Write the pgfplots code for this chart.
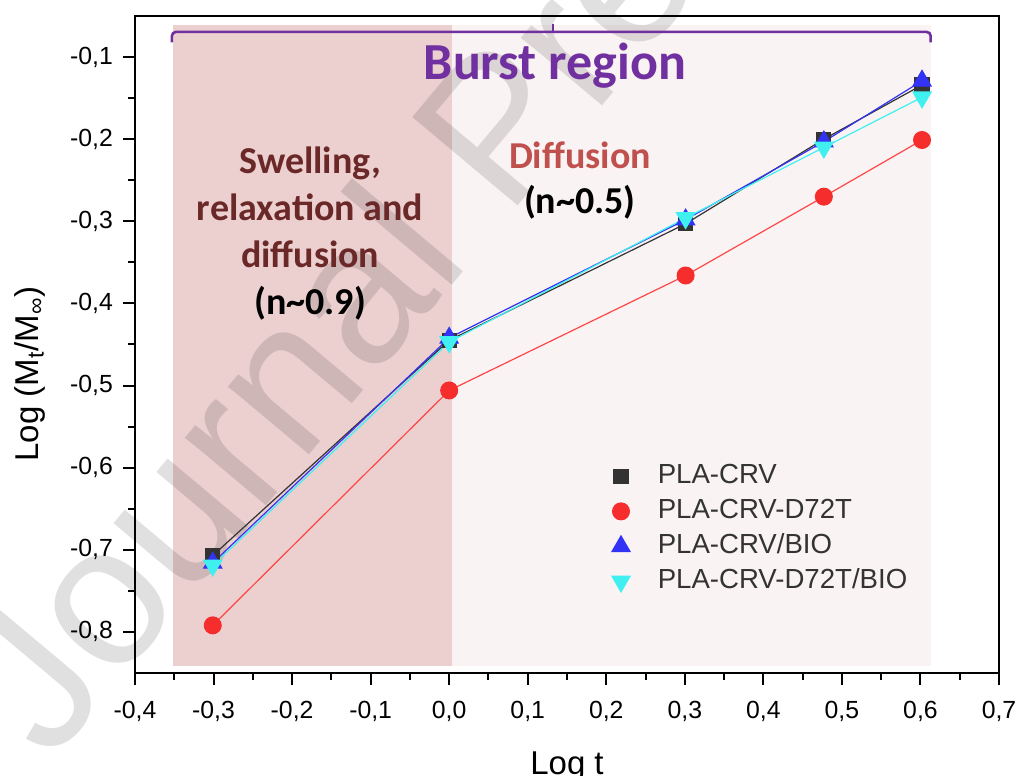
\documentclass[border=0pt]{standalone}
\usepackage{fontspec}
\setmainfont{Liberation Sans}
\newfontfamily\calfont{Carlito}
\usepackage{pgfplots}
\pgfplotsset{compat=1.18}
\definecolor{darkpink}{RGB}{236,208,208}
\definecolor{lightpink}{RGB}{250,243,243}
\definecolor{burstpurple}{RGB}{112,48,160}
\definecolor{swellred}{RGB}{107,40,40}
\definecolor{diffred}{RGB}{192,80,77}
\definecolor{sqgray}{RGB}{51,51,51}
\definecolor{cred}{RGB}{245,45,45}
\definecolor{lred}{RGB}{255,70,70}
\definecolor{tblue}{RGB}{51,51,245}
\definecolor{tcyan}{RGB}{64,240,240}
\definecolor{legtext}{RGB}{51,51,51}

\pgfplotstableread{
x y
-0.301 -0.707
0.000 -0.445
0.301 -0.303
0.477 -0.200
0.602 -0.134
}\plaCRV
\pgfplotstableread{
x y
-0.301 -0.792
0.000 -0.506
0.301 -0.366
0.477 -0.270
0.602 -0.201
}\plaD
\pgfplotstableread{
x y
-0.301 -0.716
0.000 -0.442
0.301 -0.298
0.477 -0.203
0.602 -0.129
}\plaBIO
\pgfplotstableread{
x y
-0.301 -0.719
0.000 -0.447
0.301 -0.296
0.477 -0.210
0.602 -0.149
}\plaDBIO

\begin{document}
\begin{tikzpicture}
\begin{axis}[
  name=main,
  at={(0,0)}, anchor=south west,
  scale only axis, width=432pt, height=328.5pt,
  xmin=-0.4, xmax=0.7, ymin=-0.85, ymax=-0.05,
  xtick={-0.4,-0.3,-0.2,-0.1,0,0.1,0.2,0.3,0.4,0.5,0.6,0.7},
  ytick={-0.8,-0.7,-0.6,-0.5,-0.4,-0.3,-0.2,-0.1},
  minor x tick num=1, minor y tick num=1,
  tick pos=left, tick align=outside,
  major tick length=6pt, minor tick length=3.5pt,
  every tick/.style={black, line width=1pt},
  axis line style={line width=1.2pt},
  axis on top,
  clip=false,
  /pgf/number format/.cd, use comma, fixed, fixed zerofill, precision=1, assume math mode=true,
  /pgfplots/.cd,
  ticklabel style={font=\fontsize{12.4}{14}\selectfont},
  xticklabel style={yshift=-4.5pt},
  yticklabel style={xshift=-1.5pt},
  xlabel={Log t},
  ylabel={Log (M\textsubscript{t}/M\textsubscript{∞})},
  label style={font=\fontsize{16.5}{19}\selectfont},
  xlabel style={at={(axis description cs:0.5,-0.143)}, anchor=center},
  ylabel style={at={(axis description cs:-0.1215,0.455)}, anchor=center},
  legend style={at={(rel axis cs:0.535,0.3227)}, anchor=north west, draw=none, fill=none,
    inner sep=0pt, font=\fontsize{13.8}{16}\selectfont, text=legtext,
    nodes={inner sep=1pt, text height=10pt, text depth=3pt}, row sep=2.5pt},
  legend cell align=left,
  legend image code/.code={\path (0cm,0cm) (1.0cm,0cm);\draw[mark repeat=2,mark phase=2,#1,only marks] plot coordinates {(0cm,0cm) (0.4cm,0cm) (1.0cm,0cm)};},
]
% shaded regions
\fill[darkpink] (axis cs:-0.352,-0.841) rectangle (axis cs:0.003,-0.061);
\fill[lightpink] (axis cs:0.003,-0.841) rectangle (axis cs:0.614,-0.061);
% watermark
\node[rotate=50, anchor=base west, text=black, opacity=0.12, font=\fontsize{100}{110}\selectfont, inner sep=0pt]
  at (axis cs:-0.5082,-0.9607) {Journal Pre-proof};
% bracket
\draw[burstpurple, line width=1.3pt, rounded corners=2pt]
  (axis cs:-0.353,-0.082) -- (axis cs:-0.353,-0.0694) -- (axis cs:0.613,-0.0694) -- (axis cs:0.613,-0.082);
\draw[burstpurple, line width=1.3pt] (axis cs:0.132,-0.0694) -- (axis cs:0.132,-0.0597);
% annotations
\node[font=\calfont\bfseries\fontsize{26}{30}\selectfont, text=burstpurple] at (axis cs:0.1347,-0.111) {Burst region};
\node[font=\calfont\bfseries\fontsize{19}{23.5}\selectfont, text=swellred, align=center] at (axis cs:-0.177,-0.315)
  {Swelling,\\relaxation and\\diffusion\\\textcolor{black}{(n\char`~0.9)}};
\node[font=\calfont\bfseries\fontsize{19}{22.5}\selectfont, text=diffred, align=center] at (axis cs:0.1665,-0.250)
  {Diffusion\\\textcolor{black}{(n\char`~0.5)}};

\addplot[color=sqgray, line width=0.6pt, mark=square*, mark size=3.5pt, mark options={fill=sqgray, draw=sqgray}] table[x=x,y=y] {\plaCRV};
\addlegendentry{PLA-CRV}
\addplot[color=lred, line width=0.6pt, mark=*, mark size=4.2pt, mark options={fill=cred, draw=cred}] table[x=x,y=y] {\plaD};
\addlegendentry{PLA-CRV-D72T}
\addplot[color=tblue, line width=0.6pt, mark=triangle*, mark size=5.2pt, mark options={fill=tblue, draw=tblue}] table[x=x,y=y] {\plaBIO};
\addlegendentry{PLA-CRV/BIO}
\addplot[color=tcyan, line width=0.6pt, mark=triangle*, mark size=5.2pt, mark options={fill=tcyan, draw=tcyan, rotate=180}] table[x=x,y=y] {\plaDBIO};
\addlegendentry{PLA-CRV-D72T/BIO}
\end{axis}
\pgfresetboundingbox
\path ([shift={(-67.5pt,-51.5pt)}]main.south west) rectangle ([shift={(12pt,8pt)}]main.north east);
\end{tikzpicture}
\end{document}
